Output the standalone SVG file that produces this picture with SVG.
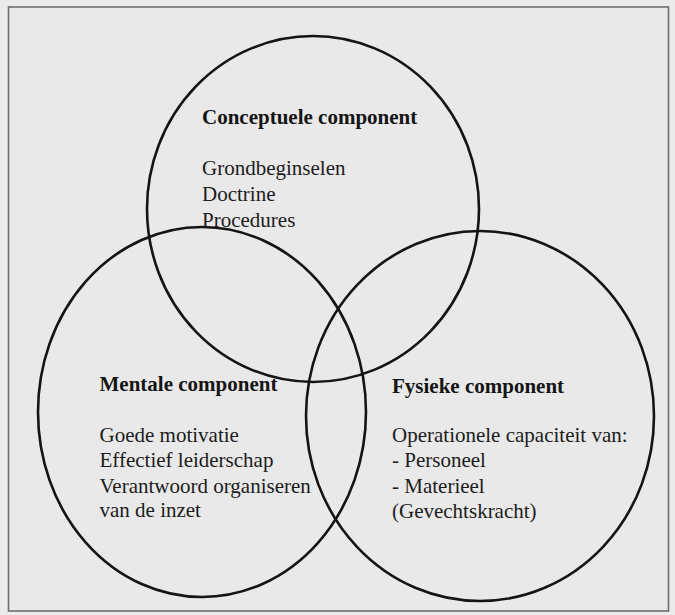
<svg xmlns="http://www.w3.org/2000/svg" width="675" height="615" viewBox="0 0 675 615">
  <style>
    .ring { fill: none; stroke: #141414; stroke-width: 2.6; }
    .title { font-family: "Liberation Serif", "Times New Roman", serif; font-size: 21px; font-weight: bold; fill: #151515; }
    .item { font-family: "Liberation Serif", "Times New Roman", serif; font-size: 21px; fill: #1c1c1c; }
  </style>
  <rect x="0" y="0" width="675" height="615" fill="#ebebeb"/>
  <rect x="8.5" y="7" width="660" height="604" fill="#e9e9e9" stroke="#6f6f6f" stroke-width="1.6"/>

  <g id="conceptuele">
    <ellipse class="ring" cx="313" cy="209" rx="166" ry="173"/>
    <text class="title" x="202" y="124">Conceptuele component</text>
    <text class="item" x="202" y="175">Grondbeginselen</text>
    <text class="item" x="202" y="201">Doctrine</text>
    <text class="item" x="202" y="226.5">Procedures</text>
  </g>

  <g id="mentale">
    <ellipse class="ring" cx="202" cy="412" rx="164" ry="185"/>
    <text class="title" x="99.5" y="391">Mentale component</text>
    <text class="item" x="99.5" y="442">Goede motivatie</text>
    <text class="item" x="99.5" y="467.3">Effectief leiderschap</text>
    <text class="item" x="99.5" y="492.6">Verantwoord organiseren</text>
    <text class="item" x="99.5" y="517">van de inzet</text>
  </g>

  <g id="fysieke">
    <ellipse class="ring" cx="480" cy="416" rx="174" ry="185"/>
    <text class="title" x="392" y="392.5">Fysieke component</text>
    <text class="item" x="392" y="442">Operationele capaciteit van:</text>
    <text class="item" x="392" y="467.3">- Personeel</text>
    <text class="item" x="392" y="492.6">- Materieel</text>
    <text class="item" x="392" y="517.5">(Gevechtskracht)</text>
  </g>

  <g id="connectors"></g>
</svg>
